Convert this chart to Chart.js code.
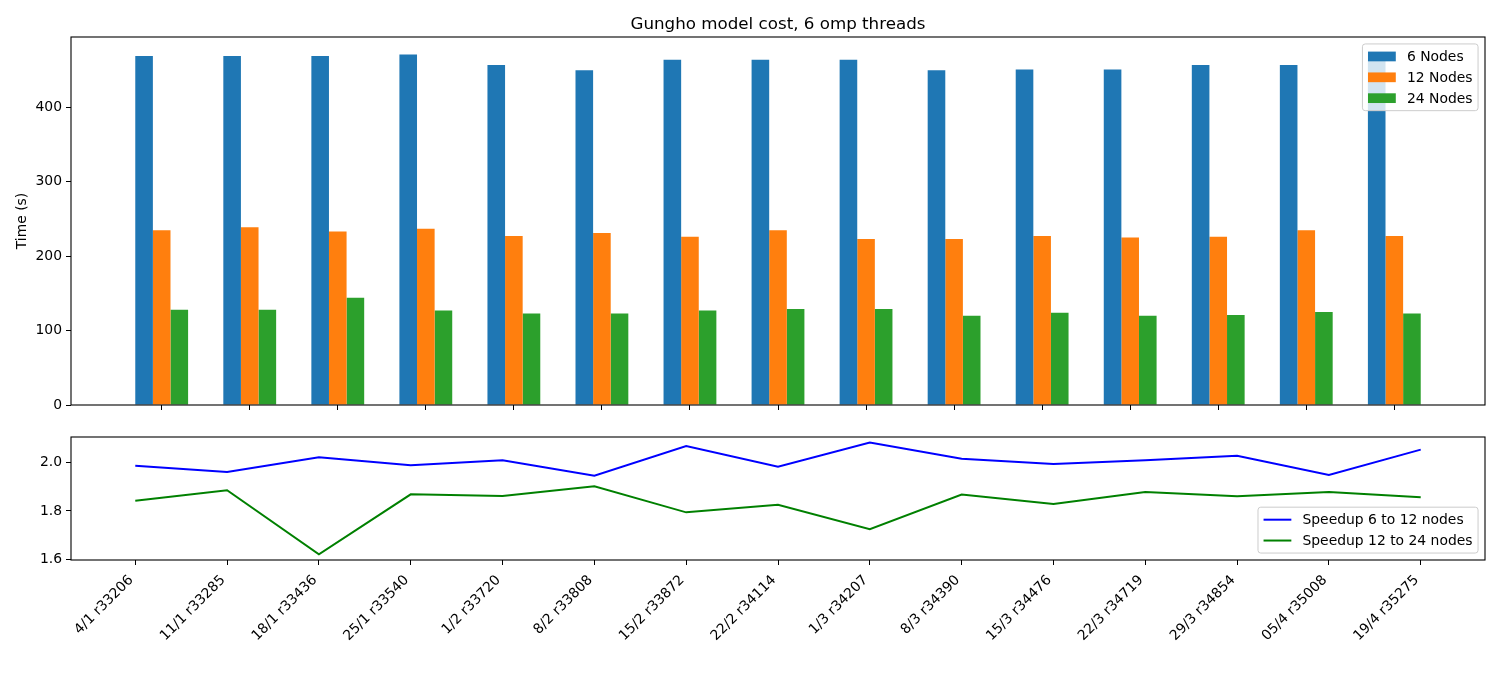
<!DOCTYPE html>
<html>
<head>
<meta charset="utf-8">
<script src="https://cdn.jsdelivr.net/npm/chart.js@4.4.1/dist/chart.umd.min.js"></script>
<style>
  body { margin: 0; background: #fff; }
  #wrap { position: relative; width: 1500px; height: 700px; }
  canvas { position: absolute; left: 0; }
  #costChart { top: 0; }
  #speedupChart { top: 420px; }
</style>
</head>
<body>
<div id="wrap">
  <canvas id="costChart" width="1500" height="420"></canvas>
  <canvas id="speedupChart" width="1500" height="280"></canvas>
</div>
<script>
const labels = [
  "4/1 r33206", "11/1 r33285", "18/1 r33436", "25/1 r33540", "1/2 r33720",
  "8/2 r33808", "15/2 r33872", "22/2 r34114", "1/3 r34207", "8/3 r34390",
  "15/3 r34476", "22/3 r34719", "29/3 r34854", "05/4 r35008", "19/4 r35275"
];
const nodes6 = [469, 469, 469, 471, 457, 450, 464, 464, 464, 450, 451, 451, 457, 457, 464];
const nodes12 = [235, 239, 233, 237, 227, 231, 226, 235, 223, 223, 227, 225, 226, 235, 227];
const nodes24 = [128, 128, 144, 127, 123, 123, 127, 129, 129, 120, 124, 120, 121, 125, 123];
const speedup6to12 = [1.986, 1.960, 2.021, 1.988, 2.008, 1.945, 2.067, 1.982, 2.081, 2.015, 1.993, 2.008, 2.027, 1.948, 2.052];
const speedup12to24 = [1.842, 1.885, 1.621, 1.868, 1.861, 1.901, 1.794, 1.825, 1.725, 1.867, 1.828, 1.878, 1.860, 1.878, 1.856];
const timeTicks = [0, 100, 200, 300, 400];
const speedupTicks = [1.6, 1.8, 2.0];

const FONT = "DejaVu Sans";
const FS = 13.9;
Chart.defaults.font.family = FONT;
Chart.defaults.font.size = FS;
Chart.defaults.color = "#000";

// axes frame like matplotlib
const frame = {
  id: "frame",
  afterDatasetsDraw(chart) {
    const { ctx, chartArea: a } = chart;
    ctx.save();
    ctx.strokeStyle = "#000";
    ctx.lineWidth = 1.1;
    ctx.strokeRect(a.left, a.top, a.right - a.left, a.bottom - a.top);
    ctx.restore();
  }
};

// legend box drawn inside the plot area
const boxLegend = {
  id: "boxLegend",
  afterDraw(chart, args, opts) {
    const { ctx, chartArea: a } = chart;
    const pad = 0.4 * FS, handle = 2 * FS, gap = 0.8 * FS, row = 1.5 * FS;
    const items = chart.data.datasets;
    ctx.save();
    ctx.font = FS + "px '" + FONT + "'";
    const textW = Math.max(...items.map(d => ctx.measureText(d.label).width));
    const w = pad * 2 + handle + gap + textW;
    const h = pad * 2 + items.length * FS + (items.length - 1) * 0.5 * FS;
    const x = a.right - 0.5 * FS - w;
    const y = opts.anchor === "bottom" ? a.bottom - 0.5 * FS - h : a.top + 0.5 * FS;
    ctx.beginPath();
    ctx.roundRect(x, y, w, h, 0.2 * FS);
    ctx.fillStyle = "rgba(255,255,255,0.8)";
    ctx.fill();
    ctx.strokeStyle = "#cccccc";
    ctx.lineWidth = 1;
    ctx.stroke();
    items.forEach((d, i) => {
      const cy = y + pad + FS / 2 + i * row;
      const hx = x + pad;
      if (opts.kind === "line") {
        ctx.strokeStyle = d.borderColor;
        ctx.lineWidth = 2;
        ctx.beginPath();
        ctx.moveTo(hx, cy);
        ctx.lineTo(hx + handle, cy);
        ctx.stroke();
      } else {
        ctx.fillStyle = d.backgroundColor;
        ctx.fillRect(hx, cy - 0.35 * FS, handle, 0.7 * FS);
      }
      ctx.fillStyle = "#000";
      ctx.textBaseline = "middle";
      ctx.textAlign = "left";
      ctx.fillText(d.label, hx + handle + gap, cy + 1);
    });
    ctx.restore();
  }
};

const tickGrid = {
  display: true,
  drawOnChartArea: false,
  drawTicks: true,
  tickLength: 5,
  color: "#000",
  lineWidth: 1,
  offset: false
};

// bar chart ranges like matplotlib (5% margins)
const barW = 0.2;
const xLo = -1.5 * barW, xHi = labels.length - 1 + 1.5 * barW;
const xPad = (xHi - xLo) * 0.05;
const timeMax = Math.max(...nodes6, ...nodes12, ...nodes24) * 1.05;

new Chart(document.getElementById("costChart"), {
  type: "bar",
  data: {
    datasets: [
      { label: "6 Nodes", data: nodes6.map((v, i) => ({ x: i, y: v })), backgroundColor: "#1f77b4" },
      { label: "12 Nodes", data: nodes12.map((v, i) => ({ x: i, y: v })), backgroundColor: "#ff7f0e" },
      { label: "24 Nodes", data: nodes24.map((v, i) => ({ x: i, y: v })), backgroundColor: "#2ca02c" }
    ]
  },
  options: {
    responsive: false,
    animation: false,
    devicePixelRatio: 1,
    datasets: { bar: { categoryPercentage: barW * 3, barPercentage: 1.0, borderWidth: 0 } },
    layout: { padding: { left: 0, right: 15, top: 0, bottom: 0 } },
    plugins: {
      legend: { display: false },
      tooltip: { enabled: false },
      title: {
        display: true,
        text: "Gungho model cost, 6 omp threads",
        fullSize: false,
        color: "#000",
        font: { size: 16.7, weight: "normal" },
        padding: { top: 14.5, bottom: 2.46 }
      },
      boxLegend: { kind: "patch", anchor: "top" }
    },
    scales: {
      x: {
        type: "linear",
        min: xLo - xPad,
        max: xHi + xPad,
        offset: false,
        grid: tickGrid,
        border: { display: false },
        ticks: { callback: () => "" },
        afterBuildTicks: s => { s.ticks = labels.map((l, i) => ({ value: i })); },
        afterFit: s => { s.height = 15; }
      },
      y: {
        min: 0,
        max: timeMax,
        grid: tickGrid,
        border: { display: false },
        ticks: { padding: 4 },
        afterBuildTicks: s => { s.ticks = timeTicks.map(v => ({ value: v })); },
        afterFit: s => { s.width = 71; },
        title: { display: true, text: "Time (s)", padding: { top: 14, bottom: 0 } }
      }
    }
  },
  plugins: [frame, boxLegend]
});

const allSpeed = [...speedup6to12, ...speedup12to24];
const sMin = Math.min(...allSpeed), sMax = Math.max(...allSpeed);
const sPad = (sMax - sMin) * 0.05;
const lxPad = (labels.length - 1) * 0.05;

new Chart(document.getElementById("speedupChart"), {
  type: "line",
  data: {
    datasets: [
      { label: "Speedup 6 to 12 nodes", data: speedup6to12.map((v, i) => ({ x: i, y: v })), borderColor: "#0000ff" },
      { label: "Speedup 12 to 24 nodes", data: speedup12to24.map((v, i) => ({ x: i, y: v })), borderColor: "#008000" }
    ]
  },
  options: {
    responsive: false,
    animation: false,
    devicePixelRatio: 1,
    datasets: { line: { borderWidth: 2, pointRadius: 0, tension: 0, fill: false } },
    layout: { padding: { left: 0, right: 15, top: 17, bottom: 0 } },
    plugins: {
      legend: { display: false },
      tooltip: { enabled: false },
      boxLegend: { kind: "line", anchor: "bottom" }
    },
    scales: {
      x: {
        type: "linear",
        min: -lxPad,
        max: labels.length - 1 + lxPad,
        grid: tickGrid,
        border: { display: false },
        ticks: {
          autoSkip: false,
          minRotation: 45,
          maxRotation: 45,
          padding: 7,
          labelOffset: -4,
          callback: v => labels[v]
        },
        afterBuildTicks: s => { s.ticks = labels.map((l, i) => ({ value: i })); },
        afterFit: s => { s.height = 140; }
      },
      y: {
        min: sMin - sPad,
        max: sMax + sPad,
        grid: tickGrid,
        border: { display: false },
        ticks: { padding: 4, callback: v => v.toFixed(1) },
        afterBuildTicks: s => { s.ticks = speedupTicks.map(v => ({ value: v })); },
        afterFit: s => { s.width = 71; }
      }
    }
  },
  plugins: [frame, boxLegend]
});
</script>
</body>
</html>
